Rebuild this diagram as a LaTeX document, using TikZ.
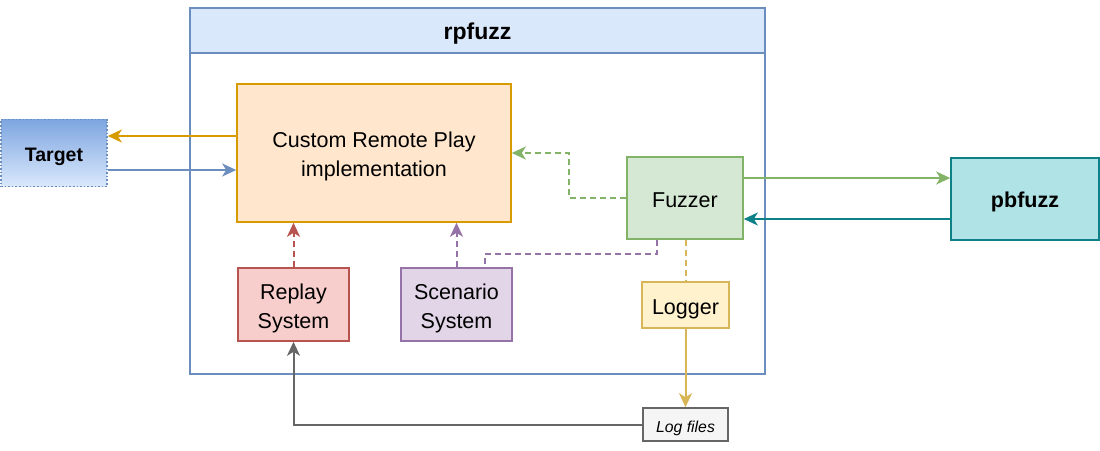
\documentclass[tikz,border=0pt]{standalone}
\usepackage{fontspec}
\setmainfont{Liberation Sans}
\usetikzlibrary{arrows.meta}
\definecolor{hblue}{HTML}{DAE8FC}
\definecolor{sblue}{HTML}{6C8EBF}
\definecolor{gblue}{HTML}{7EA6E0}
\definecolor{forange}{HTML}{FFE6CC}
\definecolor{sorange}{HTML}{D79B00}
\definecolor{fgreen}{HTML}{D5E8D4}
\definecolor{sgreen}{HTML}{82B366}
\definecolor{fteal}{HTML}{B0E3E6}
\definecolor{steal}{HTML}{0E8088}
\definecolor{fred}{HTML}{F8CECC}
\definecolor{sred}{HTML}{B85450}
\definecolor{fpurple}{HTML}{E1D5E7}
\definecolor{spurple}{HTML}{9673A6}
\definecolor{fyellow}{HTML}{FFF2CC}
\definecolor{syellow}{HTML}{D6B656}
\definecolor{fgray}{HTML}{F5F5F5}
\definecolor{sgray}{HTML}{666666}
\newcommand{\dntext}[1]{\raisebox{-3.5pt}[\height][\depth]{\begin{tabular}{@{}c@{}}#1\end{tabular}}}
\begin{document}
\begin{tikzpicture}[x=1pt,y=-1pt,
  box/.style={draw, line width=1.6pt, inner sep=0pt, align=center,
    font=\fontsize{21.5}{29}\selectfont},
  arr/.style={line width=2pt, -{Stealth[length=14pt,width=13pt,inset=4pt]}},
  plain/.style={line width=2pt},
  dsh/.style={dash pattern=on 6pt off 4pt}]
\useasboundingbox (0,0) rectangle (1100,450);
% container
\node[box, draw=sblue, fill=white, minimum width=575pt, minimum height=321pt] (rpbody) at (477.5,213.5) {};
\node[box, draw=sblue, fill=hblue, minimum width=575pt, minimum height=45pt,
  font=\fontsize{23}{28}\selectfont\bfseries] (rp) at (477.5,30.5) {\dntext{rpfuzz}};
% nodes
\node[box, draw=sblue, dotted, top color=gblue, bottom color=hblue, minimum width=106pt, minimum height=67pt,
  font=\fontsize{19.5}{24}\selectfont\bfseries] (target) at (54,153) {\dntext{Target}};
\node[box, draw=sorange, fill=forange, minimum width=274pt, minimum height=138pt] (crp) at (374,153)
  {\dntext{Custom Remote Play\\implementation}};
\node[box, draw=sgreen, fill=fgreen, minimum width=116pt, minimum height=82pt] (fuzzer) at (685,198) {\dntext{Fuzzer}};
\node[box, draw=steal, fill=fteal, minimum width=148pt, minimum height=82pt,
  font=\fontsize{21.5}{26}\selectfont\bfseries] (pbfuzz) at (1025,199) {\dntext{pbfuzz}};
\node[box, draw=sred, fill=fred, minimum width=111pt, minimum height=73pt] (replay) at (293.5,304.5) {\dntext{Replay\\System}};
\node[box, draw=spurple, fill=fpurple, minimum width=111pt, minimum height=73pt] (scenario) at (456.5,304.5) {\dntext{Scenario\\System}};
\node[box, draw=syellow, fill=fyellow, minimum width=87pt, minimum height=46pt] (logger) at (685.5,305) {\dntext{Logger}};
\node[box, draw=sgray, fill=fgray, minimum width=85pt, minimum height=33pt,
  font=\fontsize{15.8}{20}\selectfont\itshape] (logfiles) at (685.5,424.5) {\dntext{Log files}};
% connectors
\draw[arr, sorange] ([yshift=17pt]crp.west) -- ([yshift=17pt]target.east);
\draw[arr, sblue] ([yshift=-17pt]target.east) -- ([yshift=-17pt]crp.west);
\draw[arr, sgreen, dsh] (fuzzer.west) -- ++(-57,0) |- (crp.east);
\coordinate (g1) at ([yshift=20pt]fuzzer.east);
\draw[arr, sgreen] (g1) -- (g1 -| pbfuzz.west);
\coordinate (t1) at ([yshift=-21pt]fuzzer.east);
\draw[arr, steal] (t1 -| pbfuzz.west) -- (t1);
\draw[arr, sred, dsh] (replay.north) -- (replay.north |- crp.south);
\draw[arr, spurple, dsh] (scenario.north) -- (scenario.north |- crp.south);
\draw[plain, spurple, dsh] ([xshift=-28pt]fuzzer.south) -- ++(0,14) -| ([xshift=28.5pt]scenario.north);
\draw[plain, syellow, dsh] (fuzzer.south -| logger.north) -- (logger.north);
\draw[arr, syellow] (logger.south) -- (logfiles.north);
\draw[arr, sgray] (logfiles.west) -| (replay.south);
\end{tikzpicture}
\end{document}
